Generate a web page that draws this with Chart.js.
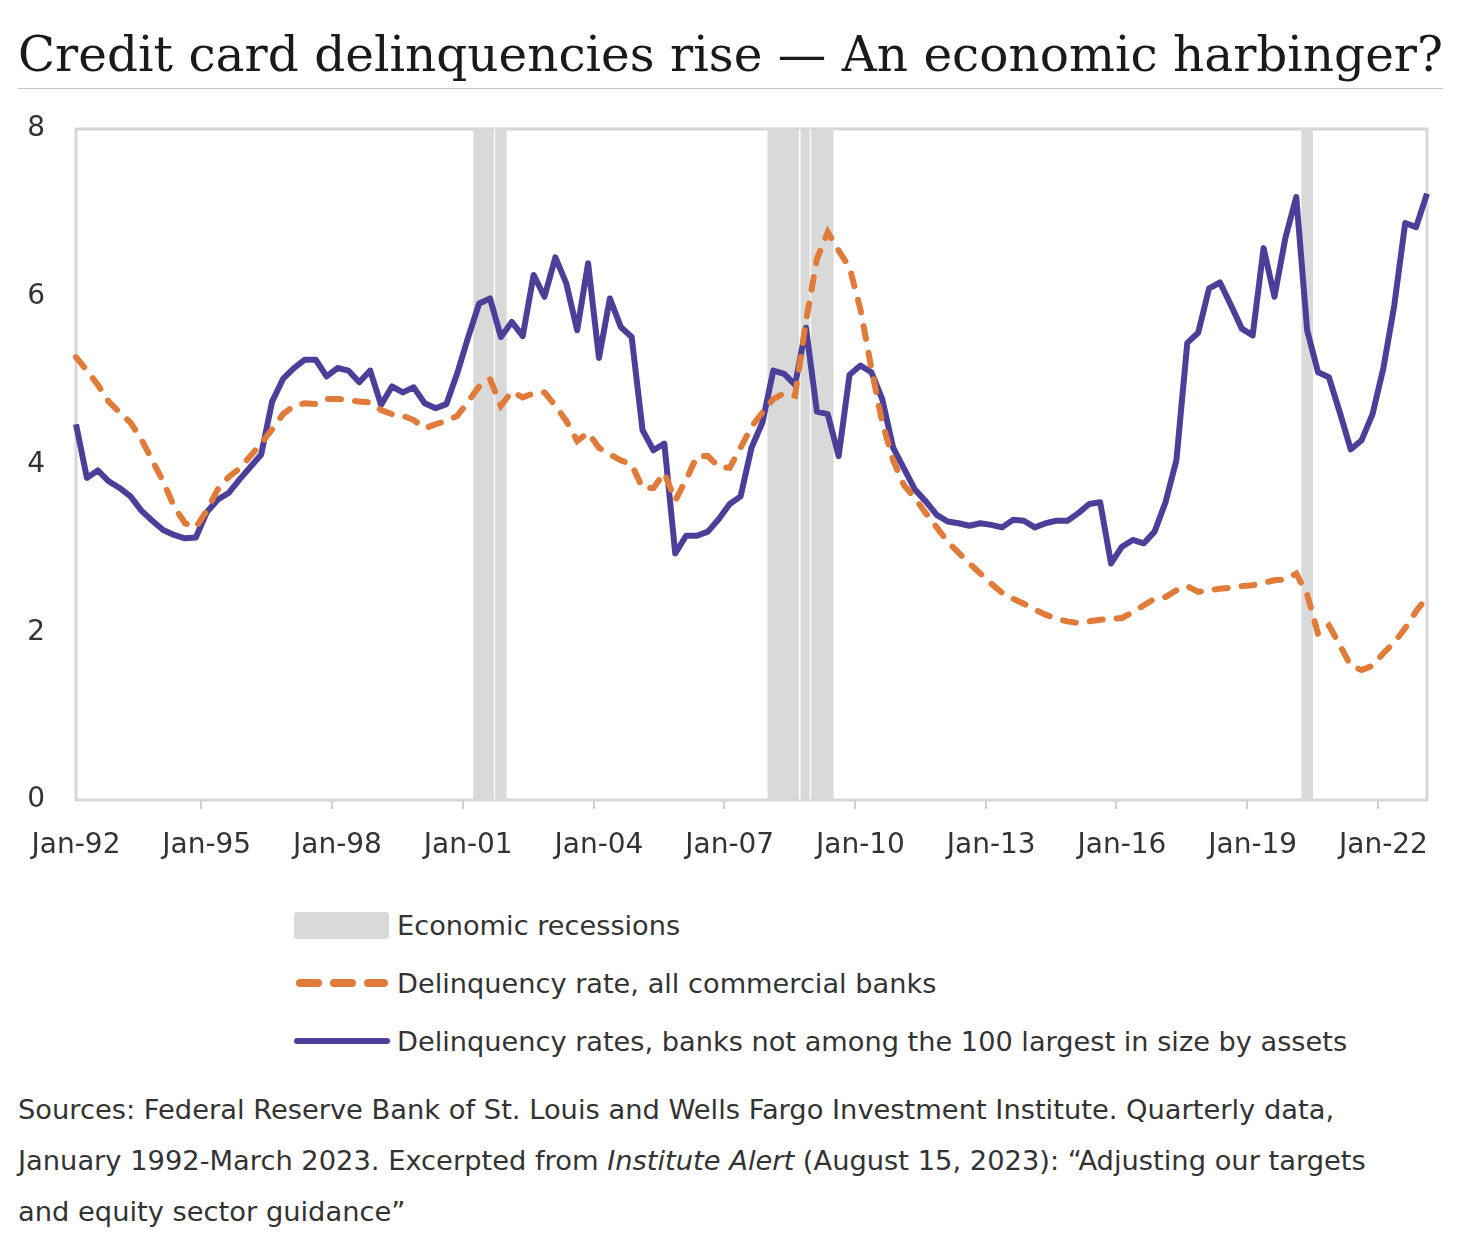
<!DOCTYPE html>
<html><head><meta charset="utf-8">
<script src="https://cdn.jsdelivr.net/npm/chart.js@4.4.0/dist/chart.umd.min.js"></script>
<style>
body{margin:0;background:#fff;width:1474px;height:1242px;position:relative;overflow:hidden;}
#title{position:absolute;left:18px;top:24px;font-family:"DejaVu Serif";font-size:48.5px;color:#1a1a1a;white-space:nowrap;line-height:60px;}
#rule{position:absolute;left:18px;top:88px;width:1425px;height:1px;background:#c8c8c8;}
#wrap{position:absolute;left:0;top:100px;width:1474px;height:780px;}
.leg{position:absolute;left:294px;height:40px;display:flex;align-items:center;font-family:"DejaVu Sans";font-size:27.2px;color:#333;white-space:nowrap;}
.leg svg{margin-right:7px;}
#src{position:absolute;left:18px;top:1084px;font-family:"DejaVu Sans";font-size:27.3px;line-height:51px;color:#333;white-space:nowrap;}
</style></head>
<body>
<div id="title">Credit card delinquencies rise — An economic harbinger?</div>
<div id="rule"></div>
<div id="wrap"><canvas id="c" width="1474" height="780"></canvas></div>
<div class="leg" style="top:905px"><svg width="96" height="30"><rect x="0" y="2" width="95" height="27" rx="3" fill="#d9d9d9"/></svg>Economic recessions</div>
<div class="leg" style="top:963px"><svg width="96" height="30"><line x1="6" y1="15" x2="90" y2="15" stroke="#e07b39" stroke-width="8" stroke-linecap="round" stroke-dasharray="18 16"/></svg>Delinquency rate, all commercial banks</div>
<div class="leg" style="top:1021px"><svg width="96" height="30"><line x1="3" y1="15" x2="93" y2="15" stroke="#4c3f99" stroke-width="6" stroke-linecap="round"/></svg>Delinquency rates, banks not among the 100 largest in size by assets</div>
<div id="src">Sources: Federal Reserve Bank of St. Louis and Wells Fargo Investment Institute. Quarterly data,<br>January 1992-March 2023. Excerpted from <i>Institute Alert</i> (August 15, 2023): “Adjusting our targets<br>and equity sector guidance”</div>
<script>
// Quarterly categories, Jan-92 .. Jan-23
const months = ['Jan','Apr','Jul','Oct'];
const quarterLabels = [];
for (let y = 1992; y <= 2023; y++) {
  for (const m of months) {
    if (quarterLabels.length < 125) quarterLabels.push(m + '-' + String(y % 100).padStart(2, '0'));
  }
}
const xTickLabels = ['Jan-92','Jan-95','Jan-98','Jan-01','Jan-04','Jan-07','Jan-10','Jan-13','Jan-16','Jan-19','Jan-22'];
const recessionQuarters = ['Apr-01','Jul-01','Oct-01','Jan-08','Apr-08','Jul-08','Oct-08','Jan-09','Apr-09','Apr-20'];
const recessionHeight = 8;

const allBanks = [
5.28,5.12,4.95,4.75,4.62,4.5,4.3,4.05,3.8,3.5,3.3,3.25,3.45,3.7,3.85,3.95,4.1,4.25,4.42,4.6,4.7,4.73,4.72,4.78,4.78,
4.77,4.75,4.74,4.65,4.6,4.58,4.53,4.43,4.48,4.52,4.58,4.75,4.93,5.02,4.7,4.87,4.8,4.85,4.86,4.7,4.52,4.28,4.38,4.2,4.12,
4.05,4.0,3.72,3.72,3.9,3.57,3.82,4.1,4.1,3.97,3.96,4.2,4.45,4.62,4.78,4.85,4.82,5.7,6.45,6.77,6.55,6.35,5.85,5.15,4.5,
4.05,3.75,3.6,3.42,3.25,3.08,2.95,2.82,2.7,2.58,2.47,2.4,2.34,2.27,2.21,2.16,2.13,2.11,2.13,2.15,2.16,2.17,2.24,2.32,2.4,
2.42,2.5,2.55,2.48,2.5,2.52,2.53,2.55,2.56,2.59,2.62,2.63,2.7,2.45,1.98,2.08,1.85,1.6,1.55,1.6,1.75,1.88,2.05,2.25,2.42];

const smallBanks = [
4.48,3.84,3.93,3.8,3.72,3.62,3.45,3.33,3.22,3.16,3.12,3.13,3.43,3.58,3.66,3.82,3.97,4.12,4.75,5.02,5.15,5.25,5.25,5.05,5.15,
5.12,4.98,5.12,4.71,4.93,4.86,4.92,4.73,4.67,4.72,5.09,5.52,5.92,5.98,5.52,5.7,5.53,6.26,6.0,6.47,6.16,5.6,6.4,5.27,5.98,
5.64,5.52,4.41,4.17,4.25,2.94,3.15,3.15,3.2,3.35,3.53,3.62,4.2,4.5,5.12,5.08,4.95,5.63,4.63,4.6,4.1,5.07,5.18,5.1,4.78,
4.2,3.95,3.7,3.56,3.4,3.32,3.3,3.27,3.3,3.28,3.25,3.34,3.33,3.25,3.3,3.33,3.33,3.42,3.53,3.55,2.82,3.02,3.1,3.06,3.2,
3.55,4.05,5.45,5.57,6.1,6.17,5.9,5.62,5.54,6.58,6.0,6.7,7.19,5.6,5.1,5.04,4.62,4.18,4.29,4.6,5.15,5.9,6.88,6.83,7.23];

const recessionData = quarterLabels.map(l => recessionQuarters.includes(l) ? recessionHeight : null);
const bandSplitAfter = ['Jul-01','Jul-08','Oct-08'];

const frame = {
  id: 'frame',
  beforeDatasetsDraw(chart) {
    const {ctx, chartArea: a} = chart;
    ctx.save();
    ctx.strokeStyle = '#d6d6d6';
    ctx.lineWidth = 3;
    ctx.strokeRect(a.left, a.top, a.right - a.left, a.bottom - a.top);
    ctx.restore();
  }
};

const tickFont = {family: 'DejaVu Sans', size: 28};

new Chart(document.getElementById('c'), {
  data: {
    labels: quarterLabels,
    datasets: [
      {type: 'line', label: 'Delinquency rate, all commercial banks', data: allBanks, order: 1,
       borderColor: '#e07b39', borderWidth: 6, borderDash: [13, 14], borderCapStyle: 'round',
       pointRadius: 0, tension: 0, fill: false},
      {type: 'line', label: 'Delinquency rates, banks not among the 100 largest in size by assets', data: smallBanks, order: 2,
       borderColor: '#4c3f99', borderWidth: 6, borderJoinStyle: 'round', pointRadius: 0, tension: 0, fill: false},
      {type: 'bar', label: 'Economic recessions', data: recessionData, order: 3,
       backgroundColor: '#d9d9d9', borderColor: '#ffffff',
       borderWidth: ctx => bandSplitAfter.includes(quarterLabels[ctx.dataIndex]) ? {right: 2, left: 0, top: 0, bottom: 0} : 0,
       borderSkipped: false, barPercentage: 1, categoryPercentage: 1}
    ]
  },
  options: {
    responsive: false,
    animation: false,
    devicePixelRatio: 1,
    layout: {padding: {top: 29, right: 47, bottom: 0, left: 0}},
    plugins: {legend: {display: false}, tooltip: {enabled: false}},
    scales: {
      x: {
        type: 'category', offset: false,
        border: {display: false},
        grid: {drawOnChartArea: false, drawTicks: true, tickLength: 9, lineWidth: 2,
               color: ctx => xTickLabels.includes(quarterLabels[ctx.index]) ? '#cfcfcf' : 'rgba(0,0,0,0)'},
        ticks: {autoSkip: false, maxRotation: 0, minRotation: 0, padding: 20, color: '#333', font: tickFont,
                callback: function(v, i) { const l = quarterLabels[i]; return xTickLabels.includes(l) ? l : ''; }},
        afterFit: s => { s.height = 80; }
      },
      y: {
        min: 0, max: 8,
        border: {display: false},
        grid: {display: true, drawOnChartArea: false, drawTicks: true, tickLength: 31, color: 'rgba(0,0,0,0)'},
        ticks: {stepSize: 2, padding: 0, color: '#333', font: tickFont},
        afterFit: s => { s.width = 76; }
      }
    }
  },
  plugins: [frame]
});
</script>
</body></html>
